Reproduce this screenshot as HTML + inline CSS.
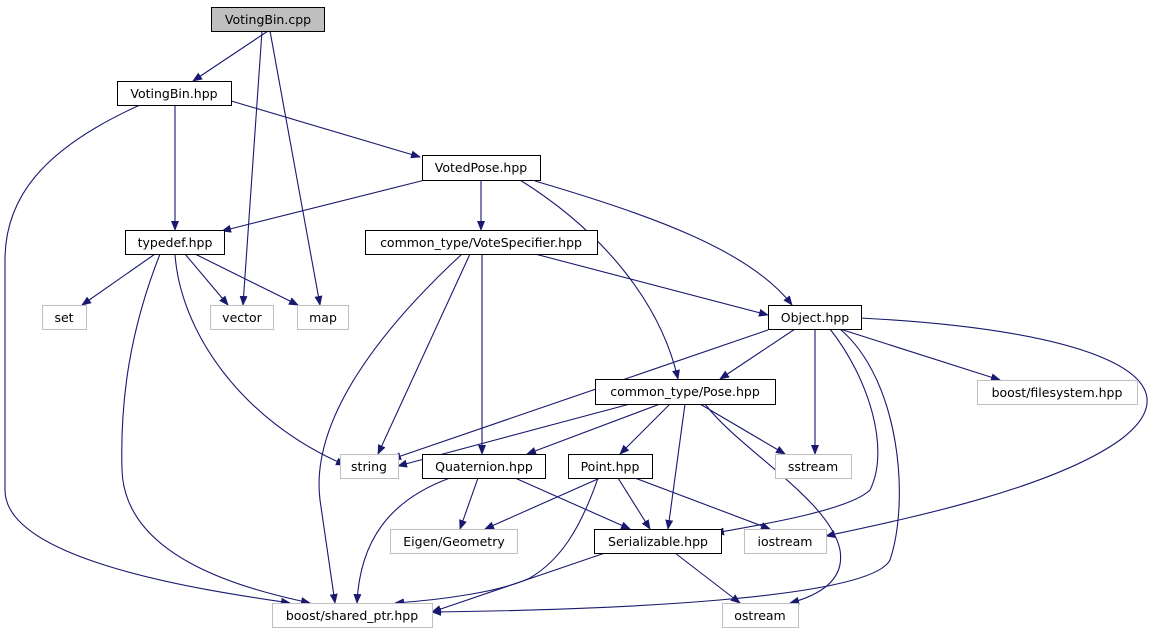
<!DOCTYPE html>
<html><head><meta charset="utf-8"><style>
html,body{margin:0;padding:0;background:#fff;}
svg text{font-family:"DejaVu Sans","Liberation Sans",sans-serif;font-size:12.5px;fill:#000;}
</style></head><body>
<svg width="1160" height="635" viewBox="0 0 1160 635" xmlns="http://www.w3.org/2000/svg">
<defs><marker id="a" viewBox="0 0 10 10" refX="9" refY="5" markerWidth="10" markerHeight="10" markerUnits="userSpaceOnUse" orient="auto"><path d="M0,1 L10,5 L0,9 z" fill="#191970"/></marker></defs>
<g fill="none" stroke="#191970" stroke-width="1.1" marker-end="url(#a)">
<path d="M268,31 L193,81"/>
<path d="M262,31 L243,305"/>
<path d="M270,31 L320,305"/>
<path d="M175,105 L175,230"/>
<path d="M228,100 L420,157"/>
<path d="M140,105 C40,150 5,200 5,260 L5,490 C5,560 200,590 290,603"/>
<path d="M425,180 L222,231"/>
<path d="M481,180 L481,230"/>
<path d="M520,180 C600,230 660,300 678,379"/>
<path d="M535,181 C650,215 750,250 792,305"/>
<path d="M155,254 L82,305"/>
<path d="M185,254 L228,305"/>
<path d="M195,254 L298,305"/>
<path d="M175,254 C180,330 240,420 345,465"/>
<path d="M160,254 C130,330 120,400 122,470 C125,560 250,590 310,603"/>
<path d="M535,254 L768,315"/>
<path d="M470,254 L378,454"/>
<path d="M482,254 L482,454"/>
<path d="M462,254 C380,330 310,420 320,500 L335,603"/>
<path d="M795,329 L720,379"/>
<path d="M768,330 L392,459"/>
<path d="M815,329 L815,454"/>
<path d="M840,329 L1000,380"/>
<path d="M860,318 C1100,330 1200,380 1120,440 C1050,490 900,520 826,536"/>
<path d="M830,329 C870,380 890,450 870,490 C850,510 760,525 715,533"/>
<path d="M840,329 C900,380 910,500 890,560 C870,600 600,610 432,612"/>
<path d="M630,404 L398,466"/>
<path d="M660,404 L527,454"/>
<path d="M670,404 L620,454"/>
<path d="M685,404 L668,529"/>
<path d="M700,404 L785,454"/>
<path d="M705,404 C740,450 830,500 840,550 C845,580 820,595 790,603"/>
<path d="M478,478 L460,529"/>
<path d="M515,478 L630,529"/>
<path d="M450,478 C390,500 360,540 357,603"/>
<path d="M600,478 L485,529"/>
<path d="M618,478 L650,529"/>
<path d="M635,478 L770,529"/>
<path d="M598,478 C580,530 560,560 530,578 C500,592 440,600 395,603"/>
<path d="M605,553 L432,612"/>
<path d="M675,553 L740,603"/>
</g>
<g stroke-width="1">
<rect x="211.5" y="7.5" width="113" height="24" fill="#bfbfbf" stroke="#000"/>
<rect x="117.5" y="81.5" width="114" height="24" fill="#fff" stroke="#000"/>
<rect x="422.5" y="155.5" width="118" height="25" fill="#fff" stroke="#000"/>
<rect x="125.5" y="230.5" width="99" height="24" fill="#fff" stroke="#000"/>
<rect x="365.5" y="230.5" width="232" height="24" fill="#fff" stroke="#000"/>
<rect x="768.5" y="305.5" width="93" height="24" fill="#fff" stroke="#000"/>
<rect x="42.5" y="305.5" width="44" height="24" fill="#fff" stroke="#bfbfbf"/>
<rect x="210.5" y="305.5" width="63" height="24" fill="#fff" stroke="#bfbfbf"/>
<rect x="297.5" y="305.5" width="51" height="24" fill="#fff" stroke="#bfbfbf"/>
<rect x="977.5" y="380.5" width="160" height="24" fill="#fff" stroke="#bfbfbf"/>
<rect x="595.5" y="379.5" width="180" height="25" fill="#fff" stroke="#000"/>
<rect x="340.5" y="454.5" width="58" height="24" fill="#fff" stroke="#bfbfbf"/>
<rect x="422.5" y="454.5" width="123" height="24" fill="#fff" stroke="#000"/>
<rect x="568.5" y="454.5" width="84" height="24" fill="#fff" stroke="#000"/>
<rect x="775.5" y="454.5" width="76" height="24" fill="#fff" stroke="#bfbfbf"/>
<rect x="390.5" y="529.5" width="127" height="24" fill="#fff" stroke="#bfbfbf"/>
<rect x="594.5" y="529.5" width="127" height="24" fill="#fff" stroke="#000"/>
<rect x="744.5" y="529.5" width="82" height="24" fill="#fff" stroke="#bfbfbf"/>
<rect x="272.5" y="603.5" width="160" height="24" fill="#fff" stroke="#bfbfbf"/>
<rect x="722.5" y="603.5" width="76" height="24" fill="#fff" stroke="#bfbfbf"/>
</g>
<g text-anchor="middle">
<text x="268" y="24">VotingBin.cpp</text>
<text x="174" y="98">VotingBin.hpp</text>
<text x="481" y="172">VotedPose.hpp</text>
<text x="175" y="247">typedef.hpp</text>
<text x="481" y="247">common_type/VoteSpecifier.hpp</text>
<text x="815" y="322">Object.hpp</text>
<text x="64" y="322">set</text>
<text x="242" y="322">vector</text>
<text x="323" y="322">map</text>
<text x="1057" y="397">boost/filesystem.hpp</text>
<text x="685" y="396">common_type/Pose.hpp</text>
<text x="369" y="471">string</text>
<text x="484" y="471">Quaternion.hpp</text>
<text x="610" y="471">Point.hpp</text>
<text x="813" y="471">sstream</text>
<text x="454" y="546">Eigen/Geometry</text>
<text x="658" y="546">Serializable.hpp</text>
<text x="785" y="546">iostream</text>
<text x="352" y="620">boost/shared_ptr.hpp</text>
<text x="760" y="620">ostream</text>
</g>
</svg>
</body></html>
